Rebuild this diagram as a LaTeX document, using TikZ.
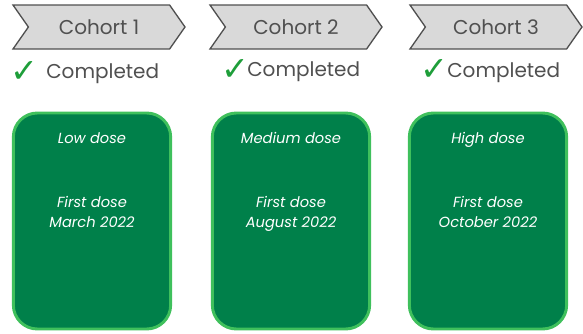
\documentclass[tikz,border=0pt]{standalone}
\usepackage{fontspec}
\setmainfont{Poppins}
\newfontfamily\symfont{DejaVu Sans}
\usetikzlibrary{shapes.symbols}

\definecolor{dosegreen}{HTML}{00804A}
\definecolor{doseedge}{HTML}{3FC05C}
\definecolor{tabgray}{HTML}{D9D9D9}
\definecolor{textgray}{HTML}{505050}
\definecolor{tickgreen}{HTML}{1E9E3A}

\begin{document}
\begin{tikzpicture}[x=0.75pt,y=-0.75pt,
  cohort/.style={signal,signal from=west,signal to=east,signal pointer angle=110,
    draw=textgray,fill=tabgray,line width=1pt,minimum width=129pt,minimum height=33pt,
    inner sep=0pt,text=textgray,font=\fontsize{15}{17}\selectfont},
  done/.style={anchor=west,inner sep=0pt,text=textgray,font=\fontsize{15}{17}\selectfont},
  checkmark/.style={inner sep=0pt,text=tickgreen,font=\symfont\fontsize{25}{27}\selectfont},
  dosebox/.style={draw=doseedge,fill=dosegreen,line width=2.2pt,rounded corners=18pt,
    minimum width=118pt,minimum height=162pt},
  dose/.style={anchor=base,align=center,text=white,font=\itshape\fontsize{11}{15}\selectfont}]
\useasboundingbox (0,0) rectangle (583,333);

% cohort tabs
\node[cohort] (c1) at (99,27) {Cohort 1};
\node[cohort] (c2) at (296,27) {Cohort 2};
\node[cohort] (c3) at (496,27) {Cohort 3};

% status
\node[checkmark] (k1) at (24,72) {✓};
\node[done] (s1) at (46,74) {Completed};
\node[checkmark] (k2) at (235,70) {✓};
\node[done] (s2) at (247,72) {Completed};
\node[checkmark] (k3) at (434,70) {✓};
\node[done] (s3) at (447,73) {Completed};

% dose boxes
\node[dosebox] (b1) at (92,221) {};
\node[dosebox] (b2) at (291,221) {};
\node[dosebox] (b3) at (488,221) {};

\node[dose] (l1) at (92,143) {Low dose};
\node[dose] (l2) at (291,143) {Medium dose};
\node[dose] (l3) at (488,143) {High dose};

\node[dose] (f1) at (92,227) {First dose\\March 2022};
\node[dose] (f2) at (291,227) {First dose\\August 2022};
\node[dose] (f3) at (488,227) {First dose\\October 2022};
\end{tikzpicture}
\end{document}
